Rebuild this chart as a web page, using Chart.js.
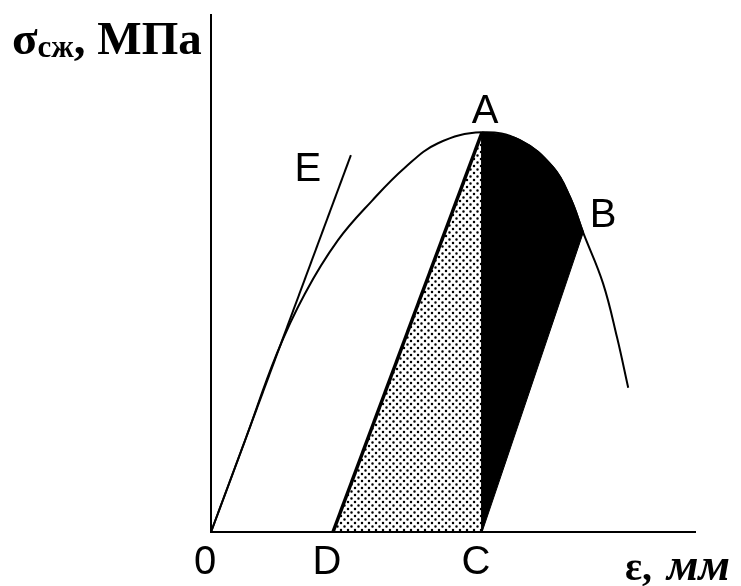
<!DOCTYPE html>
<html>
<head>
<meta charset="utf-8">
<script src="https://cdn.jsdelivr.net/npm/chart.js@4/dist/chart.umd.min.js"></script>
<style>
  html, body { margin: 0; padding: 0; background: #fff; }
  #wrap { width: 741px; height: 586px; }
</style>
</head>
<body>
<div id="wrap"><canvas id="diagram"></canvas></div>
<script>
// stress-strain curve (strain 0..10, stress 0..10, arbitrary units)
const curveStrain = [0, 0.7, 1.36, 1.94, 2.62, 3.33, 4.01, 4.69, 5.6, 6.38, 7.07, 7.42, 7.69, 8.10, 8.39, 8.62];
const curveStress = [0, 1.76, 3.45, 4.61, 5.64, 6.41, 7.05, 7.52, 7.73, 7.58, 7.05, 6.47, 5.79, 4.81, 3.76, 2.79];

// named points
const pointA = [5.6, 7.73];
const pointB = [7.69, 5.79];
const pointC = [5.6, 0];
const pointD = [2.52, 0];
const pointE = [2.89, 7.29];

const tickValues = [0, pointD[0], pointC[0]];
const tickNames = ["0", "D", "C"];

const toXY = (xs, ys) => xs.map((x, i) => ({ x, y: ys[i] }));
const seg = (p, q) => [{ x: p[0], y: p[1] }, { x: q[0], y: q[1] }];

// part of the curve between A and B (upper edge of the black area)
const topAB = toXY(curveStrain, curveStress).filter(p => p.x >= pointA[0] && p.x <= pointB[0]);

const makeDots = () => {
    const c = document.createElement("canvas");
    c.width = 7; c.height = 7;
    const g = c.getContext("2d");
    g.fillStyle = "#000";
    g.beginPath();
    g.arc(1.5, 1.5, 1.25, 0, Math.PI * 2);
    g.arc(5, 5, 1.25, 0, Math.PI * 2);
    g.fill();
    return g.createPattern(c, "repeat");
};

const textPlugin = {
    id: "diagramText",
    afterDraw(chart) {
        const { ctx, scales } = chart;
        const px = p => [scales.x.getPixelForValue(p[0]), scales.y.getPixelForValue(p[1])];
        ctx.save();
        ctx.fillStyle = "#000";

        // point letters
        ctx.font = '40px "Liberation Sans"';
        ctx.textAlign = "center";
        ctx.textBaseline = "alphabetic";
        const put = (name, p, dx, dy) => {
            const [x, y] = px(p);
            ctx.fillText(name, x + dx, y + dy + 14);
        };
        put("A", pointA, 3, -23);
        put("B", pointB, 20, -20);
        put("E", pointE, -43, 12);

        // y axis title
        ctx.textAlign = "left";
        let x = 12;
        ctx.font = 'bold 47px "Liberation Serif"';
        ctx.fillText("σ", x, 54);
        x += ctx.measureText("σ").width;
        ctx.font = 'bold 31px "Liberation Serif"';
        ctx.fillText("сж", x, 57);
        x += ctx.measureText("сж").width;
        ctx.font = 'bold 47px "Liberation Serif"';
        ctx.fillText(", МПа", x, 54);

        // x axis title
        x = 625;
        ctx.font = 'bold 40px "Liberation Serif"';
        ctx.fillText("ε, ", x, 580);
        x += ctx.measureText("ε, ").width + 5;
        ctx.font = 'italic bold 46px "Liberation Serif"';
        ctx.fillText("мм", x, 580);
        ctx.restore();
    }
};

const lineStyle = (width) => ({
    borderColor: "#000",
    borderWidth: width,
    pointRadius: 0,
    fill: false,
});

new Chart(document.getElementById("diagram"), {
    type: "line",
    data: {
        datasets: [
            { // loading curve
                data: toXY(curveStrain, curveStress),
                ...lineStyle(2),
                tension: 0.4,
            },
            { // tangent 0E
                data: seg([0, 0], pointE),
                ...lineStyle(2),
            },
            { // unloading line DA, dotted area under it
                data: seg(pointD, pointA),
                ...lineStyle(3.5),
                fill: "origin",
                backgroundColor: makeDots(),
            },
            { // black area between curve AB and line CB
                data: topAB,
                ...lineStyle(2),
                tension: 0.4,
                fill: "+1",
                backgroundColor: "#000",
            },
            { // line CB
                data: seg(pointC, pointB),
                ...lineStyle(1),
            },
            { // vertical CA
                data: seg(pointC, pointA),
                ...lineStyle(2),
            },
        ]
    },
    options: {
        responsive: true,
        maintainAspectRatio: false,
        animation: false,
        layout: { padding: { left: 211, right: 46, top: 15, bottom: -8 } },
        plugins: {
            legend: { display: false },
            tooltip: { enabled: false },
        },
        scales: {
            x: {
                type: "linear",
                min: 0,
                max: 10,
                grid: { display: false, drawTicks: false },
                border: { display: true, color: "#000", width: 2 },
                afterBuildTicks: axis => { axis.ticks = tickValues.map(v => ({ value: v })); },
                ticks: {
                    padding: 7,
                    labelOffset: -6,
                    color: "#000",
                    font: { family: "Liberation Sans", size: 40 },
                    autoSkip: false,
                    maxRotation: 0,
                    callback: (v) => tickNames[tickValues.indexOf(v)],
                },
            },
            y: {
                type: "linear",
                min: 0,
                max: 10,
                grid: { display: false, drawTicks: false },
                border: { display: true, color: "#000", width: 2 },
                ticks: { display: false },
            }
        }
    },
    plugins: [textPlugin],
});
</script>
</body>
</html>
